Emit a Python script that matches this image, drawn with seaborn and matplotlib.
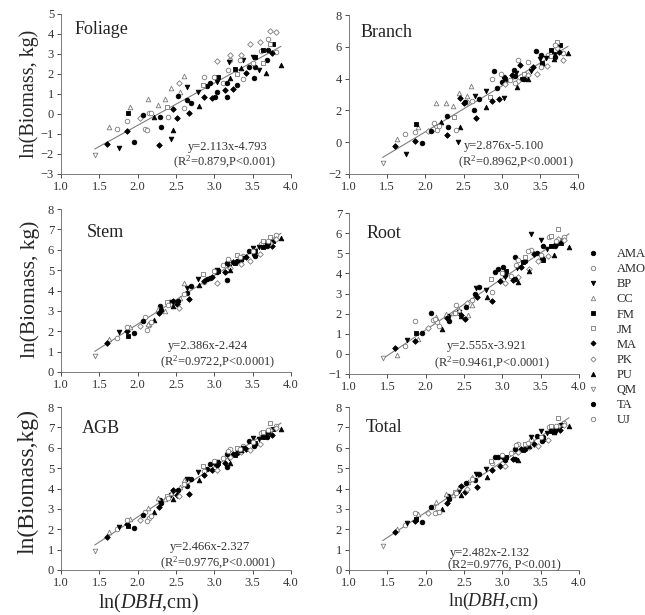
import matplotlib
matplotlib.use("Agg")
import matplotlib.pyplot as plt
import seaborn as sns
import pandas as pd
from matplotlib.lines import Line2D

# tree-level data (ln DBH and species shared by all panels)
ln_dbh = [1.44, 1.60, 1.63, 1.73, 1.75, 1.86, 1.86, 1.88, 1.90, 1.95,
          2.03, 2.07, 2.10, 2.12, 2.14, 2.15, 2.18, 2.21, 2.27, 2.28,
          2.29, 2.30, 2.36, 2.38, 2.40, 2.43, 2.44, 2.46, 2.46, 2.51,
          2.52, 2.54, 2.55, 2.60, 2.61, 2.64, 2.65, 2.67, 2.70, 2.79,
          2.80, 2.85, 2.87, 2.87, 2.90, 2.94, 2.97, 2.99, 3.01, 3.03,
          3.03, 3.04, 3.05, 3.11, 3.14, 3.16, 3.17, 3.18, 3.19, 3.20,
          3.21, 3.21, 3.24, 3.27, 3.29, 3.29, 3.34, 3.35, 3.35, 3.38,
          3.38, 3.41, 3.45, 3.46, 3.50, 3.51, 3.52, 3.53, 3.53, 3.58,
          3.59, 3.61, 3.64, 3.64, 3.68, 3.69, 3.70, 3.70, 3.72, 3.73,
          3.75, 3.76, 3.80, 3.81, 3.87]
species = ["QM", "MA", "CC", "AMO", "BP", "MA", "UJ", "FM", "CC", "AMA",
           "PK", "TA", "AMO", "UJ", "CC", "AMO", "UJ", "PU", "CC", "MA",
           "AMA", "TA", "CC", "JM", "UJ", "BP", "CC", "MA", "PU", "MA",
           "TA", "PK", "CC", "CC", "UJ", "AMA", "BP", "MA", "TA", "BP",
           "PU", "JM", "AMO", "MA", "AMA", "TA", "MA", "UJ", "AMA", "TA",
           "BP", "PK", "FM", "AMO", "MA", "AMA", "TA", "UJ", "BP", "PU",
           "PK", "AMO", "MA", "FM", "JM", "AMA", "UJ", "PK", "PU", "BP",
           "AMO", "MA", "TA", "PK", "BP", "UJ", "AMA", "FM", "TA", "BP",
           "PK", "AMO", "FM", "JM", "PU", "AMA", "TA", "UJ", "PK", "JM",
           "MA", "FM", "PK", "AMO", "PU"]

foliage = [-2.05, -1.50, -0.64, -0.74, -1.70, -0.84, -0.36, 0.07, 0.36, -1.38,
           -0.22, -0.04, -0.76, -0.80, 0.77, 0.04, 0.05, -0.16, 0.46, -1.57,
           -0.13, -0.66, 0.74, 0.37, -0.16, -1.26, 1.32, 0.26, -0.79, -0.21,
           0.92, 1.57, 1.12, 1.90, 0.29, 0.69, 1.34, 0.04, 0.57, 1.12,
           0.41, 1.45, 1.87, 0.87, 1.40, 1.54, 0.79, 1.87, 0.84, 1.12,
           1.62, 2.67, 1.84, 1.54, 1.21, 0.87, 1.57, 2.20, 2.62, 1.82,
           2.95, 2.70, 1.24, 2.25, 2.00, 1.45, 2.70, 2.97, 2.29, 2.70,
           1.76, 2.07, 2.37, 3.50, 2.87, 2.54, 1.79, 2.84, 2.37, 2.20,
           3.62, 3.17, 3.20, 2.54, 2.04, 2.70, 3.20, 3.74, 4.17, 3.50,
           3.04, 3.50, 4.09, 3.09, 2.45]
branch = [-1.30, -0.22, 0.20, 0.50, -0.75, 0.07, 0.65, 1.17, 0.98, -0.02,
          0.72, 0.71, 0.80, 1.20, 2.49, 0.75, 1.05, 1.30, 2.49, 0.45,
          1.65, 0.98, 2.28, 1.57, 0.78, 0.00, 3.10, 2.80, 0.98, 2.45,
          2.50, 2.55, 2.90, 3.55, 2.60, 2.03, 2.93, 1.50, 2.72, 3.25,
          2.20, 2.86, 4.00, 2.60, 4.50, 3.43, 2.70, 4.28, 3.80, 4.07,
          2.76, 3.65, 4.00, 3.90, 4.20, 4.55, 4.15, 3.75, 4.37, 3.50,
          3.85, 5.20, 4.85, 3.95, 4.30, 3.95, 5.05, 4.20, 4.00, 4.50,
          4.60, 4.70, 5.72, 4.30, 5.25, 4.74, 5.47, 4.95, 4.90, 5.30,
          4.80, 5.50, 5.79, 5.40, 5.25, 5.55, 5.35, 6.10, 5.90, 6.30,
          5.68, 6.14, 5.15, 5.60, 5.60]
stem = [0.78, 1.43, 1.60, 1.68, 1.95, 2.02, 2.20, 1.78, 2.22, 1.90,
        2.25, 2.48, 2.70, 2.05, 2.35, 2.30, 2.45, 2.55, 3.10, 2.92,
        3.22, 3.05, 3.00, 3.45, 3.30, 3.45, 3.35, 3.50, 3.25, 3.35,
        3.48, 3.12, 3.65, 4.35, 3.85, 3.90, 4.10, 3.60, 4.20, 4.55,
        4.25, 4.80, 4.40, 4.45, 4.55, 4.60, 4.65, 4.95, 4.95, 4.90,
        5.00, 4.35, 4.95, 5.25, 4.90, 4.50, 5.35, 5.55, 5.15, 5.00,
        5.10, 5.40, 5.40, 5.35, 5.75, 5.45, 5.65, 5.30, 5.55, 5.60,
        5.70, 5.65, 5.95, 5.45, 6.10, 5.95, 5.80, 5.95, 5.70, 6.15,
        5.80, 6.30, 6.15, 6.45, 6.30, 6.20, 6.35, 6.45, 6.35, 6.65,
        6.20, 6.45, 6.55, 6.70, 6.60]
root = [-0.22, 0.28, -0.06, 0.39, 0.69, 0.64, 1.64, 1.05, 0.75, 1.05,
        1.30, 2.03, 1.70, 1.72, 1.83, 1.60, 1.40, 1.25, 1.97, 1.80,
        1.90, 1.65, 2.05, 2.05, 2.45, 2.10, 2.20, 1.95, 1.90, 1.75,
        2.35, 2.55, 1.93, 2.45, 2.67, 3.00, 3.25, 2.85, 3.30, 3.15,
        2.85, 3.70, 3.08, 2.65, 4.05, 4.20, 3.60, 4.00, 4.30, 3.90,
        3.80, 3.50, 4.10, 3.88, 3.65, 4.80, 3.70, 4.40, 4.25, 3.55,
        3.80, 4.65, 4.30, 4.55, 4.80, 4.60, 5.10, 4.20, 4.10, 5.97,
        5.15, 4.95, 5.00, 4.60, 5.68, 4.90, 4.75, 4.65, 5.35, 5.20,
        4.85, 5.80, 5.35, 5.85, 4.90, 5.35, 5.45, 5.60, 5.70, 6.20,
        5.60, 5.50, 5.65, 5.80, 5.30]
agb = [0.92, 1.62, 1.85, 2.02, 2.12, 2.25, 2.45, 2.15, 2.50, 2.05,
       2.45, 2.70, 2.85, 2.40, 3.05, 2.55, 2.65, 2.85, 3.55, 3.10,
       3.45, 3.30, 3.50, 3.65, 3.55, 3.70, 3.80, 3.95, 3.50, 3.70,
       3.95, 3.65, 4.05, 4.40, 4.20, 4.10, 4.45, 3.75, 4.45, 4.80,
       4.40, 5.10, 4.85, 4.65, 4.95, 5.20, 4.90, 5.35, 5.25, 5.15,
       5.30, 4.90, 5.25, 5.50, 5.25, 5.05, 5.70, 5.85, 5.50, 5.25,
       5.55, 5.95, 5.70, 5.65, 6.00, 5.75, 5.95, 5.80, 5.90, 6.00,
       6.10, 5.95, 6.35, 5.90, 6.50, 6.30, 6.10, 6.25, 6.20, 6.45,
       6.20, 6.70, 6.55, 6.75, 6.60, 6.55, 6.75, 6.85, 6.85, 7.20,
       6.65, 6.90, 6.95, 7.05, 6.90]
total = [1.20, 1.85, 2.00, 2.20, 2.30, 2.40, 2.80, 2.50, 2.75, 2.35,
         2.80, 3.10, 3.10, 2.80, 3.35, 2.85, 2.85, 3.00, 3.75, 3.30,
         3.65, 3.50, 3.70, 3.85, 3.80, 3.90, 4.05, 4.10, 3.70, 3.85,
         4.25, 4.00, 4.30, 4.55, 4.45, 4.40, 4.70, 4.05, 4.70, 4.95,
         4.55, 5.35, 5.25, 4.90, 5.55, 5.55, 5.10, 5.65, 5.55, 5.40,
         5.50, 5.10, 5.55, 5.75, 5.45, 5.45, 5.95, 6.15, 5.80, 5.40,
         5.80, 6.20, 5.95, 5.90, 6.20, 5.95, 6.25, 6.05, 6.10, 6.55,
         6.40, 6.20, 6.60, 6.10, 6.80, 6.55, 6.35, 6.45, 6.55, 6.70,
         6.40, 7.00, 6.80, 7.05, 6.75, 6.80, 6.95, 7.05, 7.05, 7.45,
         6.85, 7.10, 7.10, 7.20, 7.05]

# fitted equations printed in each panel
slopes = [2.113, 2.876, 2.386, 2.555, 2.466, 2.482]
intercepts = [-4.793, -5.100, -2.424, -3.921, -2.327, -2.132]
eq_lines = [("y=2.113x-4.793", "(R$^2$=0.879,P<0.001)"),
            ("y=2.876x-5.100", "(R$^2$=0.8962,P<0.0001)"),
            ("y=2.386x-2.424", "(R$^2$=0.9722,P<0.0001)"),
            ("y=2.555x-3.921", "(R$^2$=0.9461,P<0.0001)"),
            ("y=2.466x-2.327", "(R$^2$=0.9776,P<0.0001)"),
            ("y=2.482x-2.132", "(R2=0.9776, P<0.001)")]
panel_names = ["Foliage", "Branch", "Stem", "Root", "AGB", "Total"]

species_order = ["AMA", "AMO", "BP", "CC", "FM", "JM", "MA", "PK", "PU", "QM", "TA", "UJ"]
sp_marker = {"AMA": "o", "AMO": "o", "BP": "v", "CC": "^", "FM": "s", "JM": "s",
             "MA": "D", "PK": "D", "PU": "^", "QM": "v", "TA": "o", "UJ": "o"}
sp_filled = {"AMA": True, "AMO": False, "BP": True, "CC": False, "FM": True, "JM": False,
             "MA": True, "PK": False, "PU": True, "QM": False, "TA": True, "UJ": False}

df = pd.DataFrame({"ln_dbh": ln_dbh, "species": species, "Foliage": foliage,
                   "Branch": branch, "Stem": stem, "Root": root,
                   "AGB": agb, "Total": total})

sns.set_theme(style="ticks")
plt.rcParams["font.family"] = ["Liberation Serif", "DejaVu Serif"]
plt.rcParams["mathtext.fontset"] = "custom"
plt.rcParams["mathtext.rm"] = "Liberation Serif"
plt.rcParams["mathtext.it"] = "Liberation Serif:italic"

W, H = 645, 615
fig = plt.figure(figsize=(W / 100, H / 100), dpi=100)

# axes boxes in pixels: left, right, top, bottom
boxes = [(61, 291, 14, 174), (349, 578, 15, 174),
         (61, 291, 209, 372), (349, 579, 213, 374),
         (61, 291, 407, 570), (349, 579, 407, 570)]
ylims = [(-3, 5, 1), (-2, 8, 2), (0, 8, 1), (-1, 7, 1), (0, 8, 1), (0, 8, 1)]
name_pos = [(0.057, 0.906), (0.052, 0.887), (0.113, 0.853),
            (0.074, 0.870), (0.091, 0.871), (0.074, 0.877)]
eq_pos = [((0.726, 0.169), (0.713, 0.075), "center"),
          ((0.677, 0.176), (0.727, 0.075), "center"),
          ((0.639, 0.160), (0.683, 0.061), "center"),
          ((0.600, 0.174), (0.622, 0.068), "center"),
          ((0.648, 0.141), (0.683, 0.043), "center"),
          ((0.439, 0.104), (0.430, 0.031), "left")]

axes = []
for i, (l, r, t, b) in enumerate(boxes):
    ax = fig.add_axes([l / W, (H - b) / H, (r - l) / W, (b - t) / H])
    axes.append(ax)
    col = panel_names[i]
    for sp in species_order:
        sub = df[df["species"] == sp]
        filled = sp_filled[sp]
        sns.scatterplot(data=sub, x="ln_dbh", y=col, ax=ax,
                        marker=sp_marker[sp], s=11 if sp_marker[sp] != "D" else 8,
                        color="black" if filled else "white",
                        edgecolor="black" if filled else "#7a7a7a",
                        linewidth=0.6, legend=False, zorder=3)
    # fitted line from the printed equation
    xs = [min(ln_dbh), max(ln_dbh)]
    ax.plot(xs, [slopes[i] * v + intercepts[i] for v in xs], color="#7f7f7f", lw=0.8, zorder=2)

    lo, hi, step = ylims[i]
    ax.set_xlim(1.0, 4.0)
    ax.set_ylim(lo, hi)
    ax.set_xticks([1.0, 1.5, 2.0, 2.5, 3.0, 3.5, 4.0])
    ax.set_xticklabels(["1.0", "1.5", "2.0", "2.5", "3.0", "3.5", "4.0"])
    ax.set_yticks(list(range(lo, hi + 1, step)))
    ax.tick_params(labelsize=9, length=3, width=0.6, pad=2, colors="#333333")
    ax.set_xlabel("")
    ax.set_ylabel("")
    for s in ["top", "right"]:
        ax.spines[s].set_visible(False)
    for s in ["left", "bottom"]:
        ax.spines[s].set_linewidth(0.6)
        ax.spines[s].set_color("#666666")

    ax.text(name_pos[i][0], name_pos[i][1], panel_names[i], transform=ax.transAxes,
            fontsize=13, ha="left", va="center", color="#222222")
    (x1, y1), (x2, y2), ha = eq_pos[i]
    ax.text(x1, y1, eq_lines[i][0], transform=ax.transAxes, fontsize=9, ha=ha, va="center",
            color="#333333")
    ax.text(x2, y2, eq_lines[i][1], transform=ax.transAxes, fontsize=9, ha=ha, va="center",
            color="#333333")

# axis titles
fig.text(29 / W, 1 - 94 / H, "ln(Biomass, kg)", rotation=90, ha="center", va="center", fontsize=14.5)
fig.text(30 / W, 1 - 289 / H, "ln(Biomass, kg)", rotation=90, ha="center", va="center", fontsize=15.5)
fig.text(28 / W, 1 - 482 / H, "ln(Biomass,kg)", rotation=90, ha="center", va="center", fontsize=17)
fig.text(149 / W, 1 - 603 / H, "ln($\\it{DBH}$,cm)", ha="center", va="center", fontsize=14.5)
fig.text(493 / W, 1 - 601 / H, "ln($\\it{DBH}$,cm)", ha="center", va="center", fontsize=13)

# species legend
handles = [Line2D([], [], linestyle="none", marker=sp_marker[sp],
                  markersize=3.2 if sp_marker[sp] != "D" else 2.6,
                  markerfacecolor="black" if sp_filled[sp] else "white",
                  markeredgecolor="black" if sp_filled[sp] else "#7a7a7a",
                  markeredgewidth=0.6) for sp in species_order]
fig.legend(handles, species_order, loc="upper left", bbox_to_anchor=(588 / W, 1 - 248 / H),
           frameon=False, fontsize=9, handlelength=0.8, handletextpad=1.5,
           labelspacing=0.25, borderpad=0, borderaxespad=0)

fig.savefig("out.png", dpi=100)
